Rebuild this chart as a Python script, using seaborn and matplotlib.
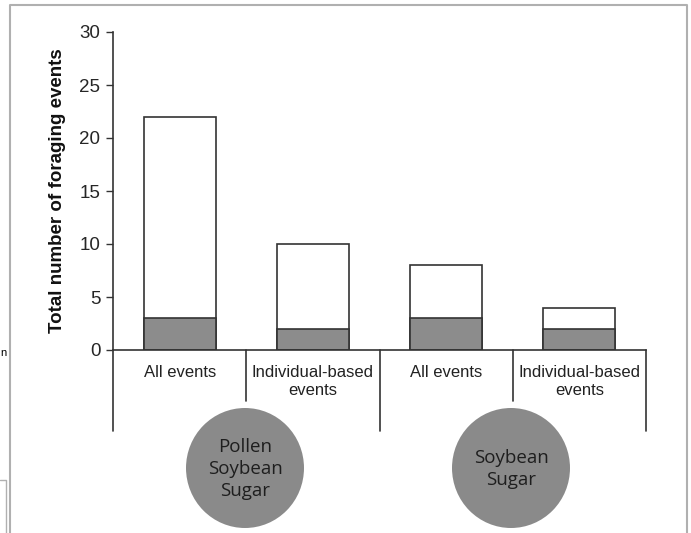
import pandas as pd
import matplotlib.pyplot as plt
import matplotlib.patches as mpatches
import matplotlib.lines as mlines
import matplotlib.transforms as mtransforms
import seaborn as sns

# Values
bar_ids = ["PSS_all", "PSS_ind", "SS_all", "SS_ind"]
bar_labels = ["All events", "Individual-based\nevents", "All events", "Individual-based\nevents"]
total_events = [22, 10, 8, 4]
shaded_events = [3, 2, 3, 2]
group_names = ["Pollen\nSoybean\nSugar", "Soybean\nSugar"]

df = pd.DataFrame({"bar": bar_ids, "total": total_events, "shaded": shaded_events})

sns.set_style("white")
plt.rcParams["font.family"] = ["Liberation Sans", "DejaVu Sans"]

W, H = 691, 533
fig = plt.figure(figsize=(W / 100, H / 100), dpi=100)
ax = fig.add_axes([113 / W, (H - 350) / H, (646 - 113) / W, (350 - 32) / H])

edge = "#333333"
sns.barplot(data=df, x="bar", y="total", color="white", edgecolor=edge,
            linewidth=1.2, width=0.54, saturation=1, ax=ax)
sns.barplot(data=df, x="bar", y="shaded", color="#8c8c8c", edgecolor=edge,
            linewidth=1.2, width=0.54, saturation=1, ax=ax)

ax.set_xlim(-0.5, 3.5)
ax.set_ylim(0, 30)
ax.set_yticks([0, 5, 10, 15, 20, 25, 30])
ax.tick_params(axis="y", direction="out", length=5, width=1, color=edge,
               labelsize=13.5, pad=4, left=True)
ax.set_xticks(range(4))
ax.set_xticklabels(bar_labels, fontsize=12, color="#222222")
ax.tick_params(axis="x", length=0, pad=11)
ax.set_xlabel("")
ax.set_ylabel("Total number of foraging events", fontsize=13.5, fontweight="bold",
              labelpad=10, color="#111111")

for s in ["top", "right"]:
    ax.spines[s].set_visible(False)
for s in ["left", "bottom"]:
    ax.spines[s].set_color(edge)
    ax.spines[s].set_linewidth(1.2)

# separators under the axis
trans = mtransforms.blended_transform_factory(ax.transData, ax.transAxes)
for xpos, depth in [(-0.5, -0.255), (0.5, -0.16), (1.5, -0.255), (2.5, -0.16), (3.5, -0.255)]:
    ax.plot([xpos, xpos], [0, depth], color=edge, lw=1.2, transform=trans, clip_on=False)

# grey circles naming the diets
for cx, name in zip([245, 511], group_names):
    fig.add_artist(mpatches.Ellipse((cx / W, (H - 468) / H), 118 / W, 120 / H,
                                    transform=fig.transFigure, facecolor="#8a8a8a",
                                    edgecolor="none"))
    fig.text(cx / W, (H - 469) / H, name, ha="center", va="center", fontsize=13.5,
             family=["Open Sans", "DejaVu Sans"], color="#1e1e1e", linespacing=1.25)

# screenshot frame fragments
frame = "#b0b0b0"
fig.add_artist(mlines.Line2D([10 / W, 10 / W, 687 / W, 687 / W], [0, (H - 5) / H, (H - 5) / H, 0],
                             transform=fig.transFigure, color=frame, lw=1.5))
fig.add_artist(mlines.Line2D([0, 6 / W, 6 / W], [(H - 480) / H, (H - 480) / H, 0],
                             transform=fig.transFigure, color=frame, lw=1))
fig.text(0.5 / W, (H - 353) / H, "n", ha="left", va="center", fontsize=8, color="black")

fig.savefig("out.png", dpi=100)
